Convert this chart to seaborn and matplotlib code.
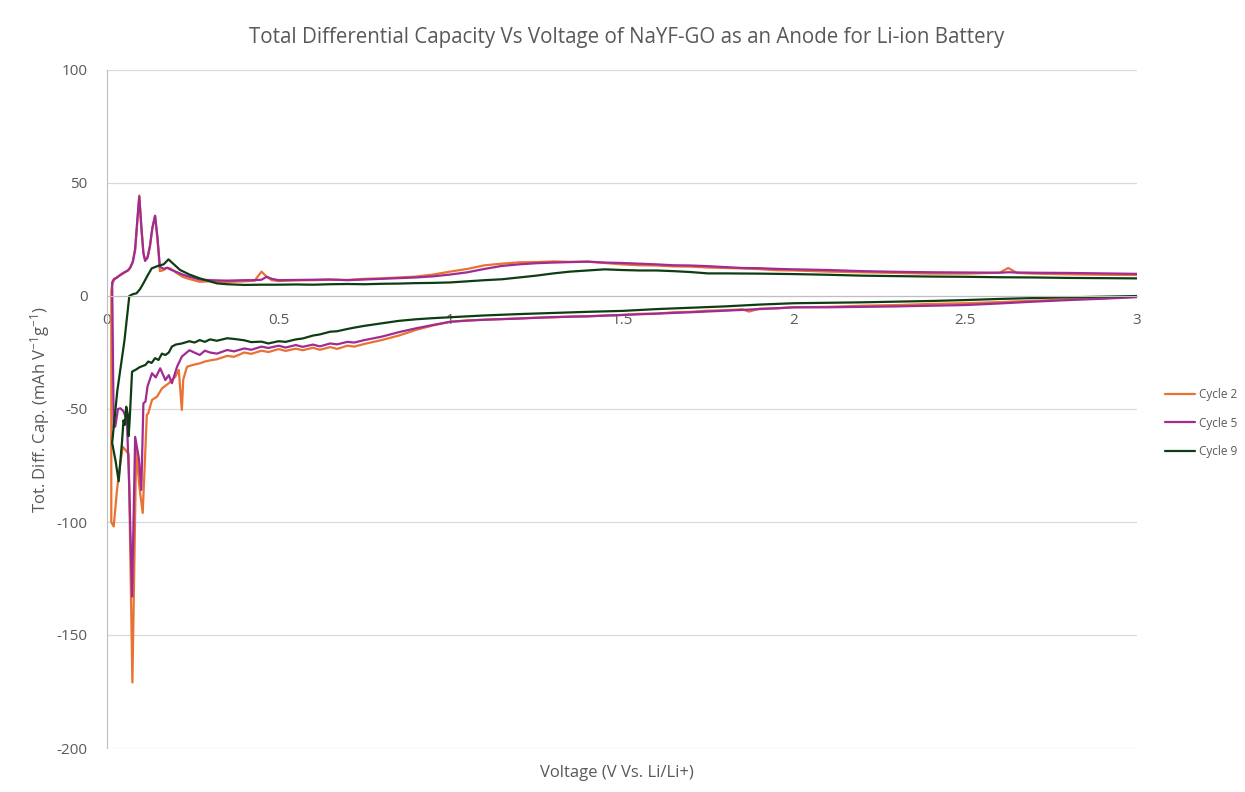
import pandas as pd
import numpy as np
import matplotlib
matplotlib.use("Agg")
import matplotlib.pyplot as plt
import seaborn as sns

GRID = "#d9d9d9"
AXIS = "#bfbfbf"
TXT = "#595959"
COLORS = {"Cycle 2": "#e97132", "Cycle 5": "#a02b93", "Cycle 9": "#0e3d14"}

# Cycle 2: discharge (3 V -> 0 V) then charge (0 V -> 3 V)
c2_dis_v = [3.00, 2.90, 2.80, 2.70, 2.60, 2.50, 2.40, 2.30, 2.20, 2.10, 2.00, 1.95, 1.90, 1.87, 1.85,
            1.80, 1.75, 1.70, 1.65, 1.60, 1.55, 1.50, 1.45, 1.40, 1.35, 1.30, 1.25, 1.20, 1.15, 1.10,
            1.05, 1.00, 0.95, 0.90, 0.85, 0.80, 0.75, 0.72, 0.70, 0.67, 0.65, 0.62, 0.60, 0.57, 0.55,
            0.52, 0.50, 0.47, 0.45, 0.42, 0.40, 0.37, 0.35, 0.32, 0.30, 0.285, 0.27, 0.25, 0.233, 0.222,
            0.218, 0.209, 0.199, 0.18, 0.16, 0.146, 0.131, 0.12, 0.116, 0.104, 0.094, 0.085, 0.074,
            0.063, 0.053, 0.046, 0.038, 0.029, 0.0195, 0.0125]
c2_dis_q = [-0.3, -1.0, -1.5, -2.1, -2.7, -3.2, -3.5, -4.0, -4.3, -4.8, -5.0, -5.5, -5.6, -6.9, -5.9,
            -6.3, -6.5, -7.0, -7.2, -7.8, -7.9, -8.4, -8.6, -9.0, -9.1, -9.5, -9.6, -9.9, -10.2, -10.5,
            -10.8, -11.4, -13.0, -15.0, -17.5, -19.5, -21.2, -22.4, -22.0, -23.4, -22.6, -23.8, -22.9, -24.0, -23.3,
            -24.3, -23.5, -24.8, -24.2, -25.6, -25.0, -26.9, -26.5, -28.0, -28.5, -29.0, -29.8, -30.5, -31.3, -37.0,
            -50.4, -32.7, -35.7, -38.6, -40.9, -44.5, -46.0, -52.0, -52.6, -96.0, -84.0, -68.0, -171.0,
            -70.0, -68.0, -66.7, -75.0, -86.0, -102.0, -100.0]

chg_v = [0.0125, 0.015, 0.02, 0.03, 0.04, 0.05, 0.06, 0.067, 0.075, 0.082, 0.088, 0.094, 0.10, 0.106,
         0.111, 0.118, 0.125, 0.132, 0.14, 0.147, 0.154, 0.165, 0.175, 0.184, 0.20, 0.22, 0.24, 0.27,
         0.30, 0.35, 0.40, 0.43, 0.45, 0.465, 0.48, 0.50, 0.55, 0.60, 0.65, 0.70, 0.75, 0.80, 0.85,
         0.90, 0.95, 1.00, 1.05, 1.10, 1.15, 1.20, 1.25, 1.30, 1.35, 1.40, 1.45, 1.50, 1.55, 1.60,
         1.65, 1.70, 1.75, 1.80, 1.85, 1.90, 1.95, 2.00, 2.10, 2.20, 2.30, 2.40, 2.50, 2.60, 2.625,
         2.65, 2.70, 2.80, 2.90, 3.00]
c2_chg_q = [2.0, 5.0, 7.0, 8.5, 9.3, 10.2, 11.2, 12.2, 15.0, 20.0, 32.0, 44.5, 30.0, 19.0,
            16.0, 17.0, 22.0, 30.0, 35.5, 25.0, 11.0, 11.5, 12.5, 12.2, 10.5, 8.5, 7.5, 6.3,
            6.5, 6.2, 6.5, 6.8, 10.8, 8.5, 7.0, 6.6, 6.9, 7.0, 7.2, 7.1, 7.6, 7.8, 8.2,
            8.6, 9.5, 10.8, 12.0, 13.6, 14.3, 14.9, 15.0, 15.3, 15.1, 15.2, 14.6, 14.0, 13.6, 13.5,
            13.1, 13.0, 12.6, 12.4, 12.2, 11.9, 11.4, 11.3, 10.8, 10.5, 10.2, 9.9, 9.9, 10.3, 12.4,
            10.2, 9.9, 9.6, 9.4, 9.3]

# Cycle 5
c5_dis_v = [3.00, 2.90, 2.80, 2.70, 2.60, 2.50, 2.40, 2.30, 2.20, 2.10, 2.00, 1.90, 1.80, 1.70, 1.60,
            1.50, 1.40, 1.30, 1.20, 1.10, 1.05, 1.00, 0.95, 0.90, 0.85, 0.80, 0.75, 0.72, 0.70, 0.67,
            0.65, 0.62, 0.60, 0.57, 0.55, 0.52, 0.50, 0.47, 0.45, 0.42, 0.40, 0.37, 0.35, 0.32, 0.30,
            0.285, 0.27, 0.24, 0.218, 0.204, 0.189, 0.18, 0.17, 0.155, 0.142, 0.131, 0.118, 0.112,
            0.106, 0.10, 0.093, 0.087, 0.082, 0.073, 0.065, 0.058, 0.048, 0.039, 0.032, 0.024, 0.0195]
c5_dis_q = [-0.5, -1.2, -1.8, -2.5, -3.3, -4.0, -4.3, -4.6, -4.8, -5.0, -5.0, -5.8, -6.5, -7.2, -7.8,
            -8.4, -9.0, -9.3, -10.0, -10.5, -10.9, -11.4, -12.8, -14.3, -16.0, -18.0, -19.5, -20.6, -20.3, -21.4,
            -21.0, -22.3, -21.5, -22.5, -21.7, -22.8, -22.0, -23.0, -22.4, -23.8, -23.2, -24.5, -23.9, -25.5, -25.0,
            -24.2, -26.1, -24.0, -26.8, -31.3, -38.6, -35.0, -37.2, -32.0, -36.0, -34.2, -40.0, -46.7,
            -47.5, -85.8, -72.0, -66.7, -62.3, -133.0, -85.0, -55.0, -51.0, -49.7, -50.0, -57.8, -58.0]
c5_chg_q = [3.0, 6.0, 7.5, 8.2, 9.5, 10.5, 11.2, 12.5, 15.0, 21.0, 33.0, 44.0, 31.0, 19.0,
            15.5, 17.0, 22.0, 30.0, 35.5, 26.0, 13.0, 12.0, 12.5, 11.8, 10.8, 9.5, 8.5, 7.3,
            7.0, 6.8, 7.0, 7.0, 7.2, 8.5, 7.6, 7.0, 7.1, 7.2, 7.3, 7.0, 7.3, 7.6, 7.9,
            8.2, 8.7, 9.5, 10.5, 12.0, 13.3, 14.0, 14.5, 14.8, 15.0, 15.2, 14.8, 14.6, 14.3, 14.0,
            13.6, 13.5, 13.2, 12.8, 12.4, 12.3, 12.0, 11.8, 11.5, 11.0, 10.7, 10.5, 10.4, 10.3, 10.5,
            10.4, 10.3, 10.2, 10.0, 9.8]

# Cycle 9
c9_dis_v = [3.00, 2.90, 2.80, 2.70, 2.60, 2.50, 2.40, 2.30, 2.20, 2.10, 2.00, 1.90, 1.80, 1.70, 1.60,
            1.50, 1.40, 1.30, 1.20, 1.10, 1.00, 0.95, 0.90, 0.85, 0.80, 0.75, 0.72, 0.70, 0.67, 0.65,
            0.62, 0.60, 0.57, 0.55, 0.52, 0.50, 0.47, 0.45, 0.42, 0.40, 0.37, 0.35, 0.32, 0.30, 0.285,
            0.27, 0.255, 0.24, 0.218, 0.20, 0.189, 0.18, 0.17, 0.16, 0.15, 0.14, 0.13, 0.12, 0.112,
            0.095, 0.085, 0.073, 0.066, 0.063, 0.06, 0.056, 0.052, 0.048, 0.044, 0.034, 0.025, 0.015]
c9_dis_q = [0.0, -0.3, -0.6, -0.9, -1.3, -1.8, -2.2, -2.5, -2.8, -3.0, -3.2, -3.8, -4.6, -5.2, -5.8,
            -6.6, -7.0, -7.5, -8.0, -8.6, -9.4, -9.8, -10.3, -11.0, -12.1, -13.2, -14.0, -14.6, -15.6, -15.8,
            -17.0, -17.5, -18.8, -19.2, -20.3, -20.0, -21.0, -20.2, -20.4, -19.6, -19.0, -18.7, -19.8, -19.2, -20.3,
            -19.5, -20.6, -20.0, -21.0, -21.5, -22.4, -25.0, -26.1, -25.5, -28.3, -27.5, -29.6, -29.0, -30.5,
            -31.5, -32.5, -33.5, -55.0, -62.0, -52.0, -49.0, -57.0, -55.0, -64.0, -82.0, -73.0, -65.0]
c9_chg_v = [0.03, 0.051, 0.065, 0.075, 0.086, 0.096, 0.106, 0.118, 0.13, 0.15, 0.165, 0.179, 0.195,
            0.213, 0.24, 0.27, 0.30, 0.32, 0.35, 0.40, 0.45, 0.50, 0.55, 0.60, 0.65, 0.70, 0.75, 0.80,
            0.85, 0.90, 0.95, 1.00, 1.05, 1.10, 1.15, 1.20, 1.25, 1.30, 1.35, 1.40, 1.45, 1.50, 1.55,
            1.60, 1.65, 1.70, 1.75, 1.80, 1.90, 2.00, 2.10, 2.20, 2.30, 2.40, 2.50, 2.60, 2.70, 2.80,
            2.90, 3.00]
c9_chg_q = [-42.0, -19.5, 0.0, 0.8, 1.2, 3.0, 5.6, 9.0, 12.2, 13.4, 14.0, 16.2, 14.0,
            11.5, 9.5, 7.8, 6.5, 5.6, 5.2, 4.9, 5.0, 5.0, 5.1, 5.0, 5.2, 5.3, 5.2, 5.4,
            5.5, 5.7, 5.8, 6.0, 6.5, 7.0, 7.4, 8.2, 9.0, 10.0, 10.8, 11.3, 11.8, 11.5, 11.3,
            11.3, 11.0, 10.6, 10.0, 10.0, 9.9, 9.7, 9.4, 9.0, 8.8, 8.6, 8.5, 8.3, 8.2, 8.0,
            7.9, 7.8]

x_ticks = [0, 0.5, 1, 1.5, 2, 2.5, 3]
x_tick_labels = ["0", "0.5", "1", "1.5", "2", "2.5", "3"]
y_ticks = [-200, -150, -100, -50, 0, 50, 100]

rows = []
for name, v, q in [("Cycle 2", c2_dis_v + chg_v, c2_dis_q + c2_chg_q),
                   ("Cycle 5", c5_dis_v + chg_v[1:], c5_dis_q + c5_chg_q[1:]),
                   ("Cycle 9", c9_dis_v + c9_chg_v, c9_dis_q + c9_chg_q)]:
    for i in range(len(v)):
        rows.append({"order": i, "voltage": v[i], "dqdv": q[i], "cycle": name})
df = pd.DataFrame(rows)

sns.set_style("white")
plt.rcParams["font.family"] = ["Open Sans", "DejaVu Sans"]
plt.rcParams["mathtext.fontset"] = "custom"
plt.rcParams["mathtext.rm"] = "Open Sans"
plt.rcParams["mathtext.default"] = "regular"
plt.rcParams["axes.unicode_minus"] = False

fig = plt.figure(figsize=(12.45, 7.92), dpi=100)
ax = fig.add_axes([107 / 1245, 44 / 792, 1030 / 1245, 678 / 792])

sns.lineplot(data=df, x="voltage", y="dqdv", hue="cycle", palette=COLORS, sort=False,
             estimator=None, units="cycle", linewidth=1.6, ax=ax)

ax.set_xlim(0, 3)
ax.set_ylim(-200, 100)
ax.set_xticks(x_ticks)
ax.set_xticklabels(x_tick_labels)
ax.set_yticks(y_ticks)
ax.yaxis.grid(True, color=GRID, linewidth=0.9)
ax.xaxis.grid(False)
ax.set_axisbelow(True)
ax.tick_params(axis="both", length=0, colors=TXT, labelsize=11)
ax.tick_params(axis="x", pad=12)
ax.tick_params(axis="y", pad=14)

ax.spines["top"].set_visible(False)
ax.spines["right"].set_visible(False)
ax.spines["left"].set_color(AXIS)
ax.spines["bottom"].set_color(AXIS)
ax.spines["bottom"].set_position(("data", 0))

ax.set_xlabel("")
ax.set_ylabel("")
fig.text(617 / 1245, 1 - 773 / 792, "Voltage (V Vs. Li/Li+)", ha="center", va="center",
         fontsize=12, color=TXT)
fig.text(40 / 1245, 1 - 410 / 792, r"Tot. Diff. Cap. (mAh V$^{-1}$g$^{-1}$)", ha="center",
         va="center", rotation=90, fontsize=12, color=TXT)
fig.text(627 / 1245, 1 - 38 / 792,
         "Total Differential Capacity Vs Voltage of NaYF-GO as an Anode for Li-ion Battery",
         ha="center", va="center", fontsize=14.8, color=TXT)

ax.legend(loc="center left", bbox_to_anchor=(1165 / 1245, 1 - 423 / 792),
          bbox_transform=fig.transFigure, frameon=False, fontsize=8.5, handlelength=2.5,
          handletextpad=0.4, labelspacing=1.3, borderpad=0, borderaxespad=0, labelcolor=TXT)

fig.savefig("out.png", dpi=100)
plt.close()
